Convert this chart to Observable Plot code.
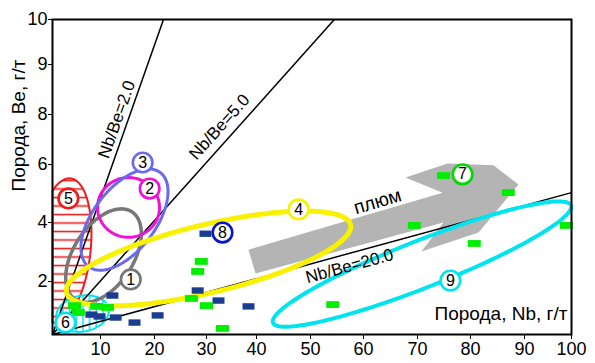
<!DOCTYPE html>
<html>
<head>
<meta charset="utf-8">
<script src="https://cdn.jsdelivr.net/npm/d3@7"></script>
<script src="https://cdn.jsdelivr.net/npm/@observablehq/plot@0.6"></script>
<style>
html,body{margin:0;padding:0;background:#fff;}
</style>
</head>
<body>
<div id="chart"></div>
<script>
// ---------- axes ----------
const xTickValues = [10, 20, 30, 40, 50, 60, 70, 80, 90, 100];
const yTickValues = [2, 4, 6, 8, 9, 10];
// the printed axes are not evenly spaced: tick value -> where it is printed
const xBreaks = [0, 10, 20, 30, 40, 50, 60, 70, 80, 90, 100];
const xPixels = [52, 100, 154, 206, 256, 310, 363, 417, 470, 524, 571];
const yBreaks = [0, 2, 4, 6, 8, 9, 10];
const yPixels = [334, 281, 222, 164, 114, 64, 19];

// ---------- samples ----------
const blueNb = [12.2, 8.1, 9.8, 12.8, 16.3, 20.6, 28.3, 29.8, 32.4, 38.4];
const blueBe = [1.47, 0.75, 0.68, 0.64, 0.45, 0.72, 1.66, 3.62, 1.28, 1.06];
const greenNb = [4.6, 5.4, 9.2, 11.3, 29.0, 28.3, 27.1, 30.0, 33.2, 54.2, 74.9, 87.0, 69.4, 80.7, 98.9];
const greenBe = [1.09, 0.83, 1.06, 1.02, 2.68, 2.34, 1.36, 1.09, 0.23, 1.13, 5.62, 5.03, 3.90, 3.29, 3.90];

// ---------- fields (ellipses: centre, end of one half-axis, end of the other) ----------
const zoneIds      = ["5", "6", "1", "2", "3", "4", "9"];
const zoneCenterNb = [2.08, 6.25, 10.56, 15.19, 14.44, 30.4, 70.85];
const zoneCenterBe = [3.05, 0.79, 2.88, 4.52, 4.10, 2.78, 2.59];
const zoneAxisANb  = [3.75, 11.48, 15.8, 20.96, 21.13, 57.55, 99.9];
const zoneAxisABe  = [5.52, 0.98, 4.37, 4.52, 5.72, 3.93, 4.59];
const zoneAxisBNb  = [7.88, 6.96, 15.2, 15.19, 19.0, 31.98, 72.47];
const zoneAxisBBe  = [2.95, 0.125, 2.33, 5.55, 3.46, 1.62, 1.83];

// ---------- numbered labels ----------
const labelText = ["1", "2", "3", "4", "5", "6", "7", "8", "9"];
const labelNb = [15.6, 19.1, 17.8, 47.8, 3.3, 2.7, 78.5, 33.2, 76.2];
const labelBe = [2.07, 5.17, 6.08, 4.45, 4.83, 0.45, 5.66, 3.66, 2.03];

// ---------- Nb/Be ratio lines ----------
const ratioText   = ["Nb/Be=2.0", "Nb/Be=5.0", "Nb/Be=20.0"];
const ratioEndNb  = [21.73, 54.5, 100];
const ratioEndBe  = [10, 10, 5.03];
const ratioTextNb = [13.0, 32.6, 57.36];
const ratioTextBe = [7.8, 7.5, 2.52];

// ---------- plume arrow ----------
const plumeNb = [38.4, 74.72, 67.78, 75.66, 84.26, 88.89, 81.48, 70.75, 74.91, 39.8];
const plumeBe = [3.08, 5.03, 5.55, 6.04, 5.97, 5.31, 3.66, 3.02, 4.0, 2.27];
const plumeText = "плюм";
const plumeTextNb = 62.59, plumeTextBe = 4.72;

const xTitle = "Порода, Nb, г/т";
const yTitle = "Порода, Be, г/т";

// ---------- styles ----------
const zoneStyle = {
  "5": {stroke: "#ee1c1c", strokeWidth: 2, fill: "#fe0101", clampFrame: true},
  "6": {stroke: "#00e4f0", strokeWidth: 2, fill: "#01fefe", clampFrame: true},
  "1": {stroke: "#777777", strokeWidth: 3.5},
  "2": {stroke: "#f010d8", strokeWidth: 3},
  "3": {stroke: "#6a6aee", strokeWidth: 3},
  "4": {stroke: "#f8f200", strokeWidth: 5},
  "9": {stroke: "#00e4f0", strokeWidth: 4}
};
const labelColor = {"1": "#777777", "2": "#f010d8", "3": "#6a6aee", "4": "#f8f200", "5": "#ee1c1c",
  "6": "#00e4f0", "7": "#00d800", "8": "#0a14c8", "9": "#00e4f0"};

// same mapping as the Plot scales (for building shapes)
const xs = d3.scaleLinear(xBreaks, xPixels);
const ys = d3.scaleLinear(yBreaks, yPixels);

function outline(i, clampFrame) {
  const cx = xs(zoneCenterNb[i]), cy = ys(zoneCenterBe[i]);
  const ax = xs(zoneAxisANb[i]) - cx, ay = ys(zoneAxisABe[i]) - cy;
  const bx = xs(zoneAxisBNb[i]) - cx, by = ys(zoneAxisBBe[i]) - cy;
  const n = 160;
  return d3.range(n).map(k => {
    const t = k / n * 2 * Math.PI;
    let px = cx + ax * Math.cos(t) + bx * Math.sin(t);
    let py = cy + ay * Math.cos(t) + by * Math.sin(t);
    if (clampFrame) {
      px = Math.min(Math.max(px, xPixels[0]), xPixels[xPixels.length - 1]);
      py = Math.min(Math.max(py, yPixels[yPixels.length - 1]), yPixels[0]);
    }
    return {Nb: xs.invert(px), Be: ys.invert(py)};
  });
}

const bluePts = blueNb.map((Nb, i) => ({Nb, Be: blueBe[i]}));
const greenPts = greenNb.map((Nb, i) => ({Nb, Be: greenBe[i]}));
const labels = labelText.map((t, i) => ({t, Nb: labelNb[i], Be: labelBe[i], color: labelColor[t]}));
const plume = plumeNb.map((Nb, i) => ({Nb, Be: plumeBe[i]}));
const ratios = ratioText.map((t, i) => ({t, Nb0: 0, Be0: 0, Nb1: ratioEndNb[i], Be1: ratioEndBe[i], tNb: ratioTextNb[i], tBe: ratioTextBe[i]}));

const angle = (x0, y0, x1, y1) => Math.atan2(ys(y1) - ys(y0), xs(x1) - xs(x0)) * 180 / Math.PI;

const blueBar = {draw(ctx) { ctx.rect(-6, -3.2, 12, 6.4); }};
const greenBar = {draw(ctx) { ctx.rect(-6.5, -3.4, 13, 6.8); }};

const hatched = zoneIds.map((id, i) => ({id, i})).filter(d => zoneStyle[d.id].fill);
const open = zoneIds.map((id, i) => ({id, i})).filter(d => !zoneStyle[d.id].fill);

const marks = [];
// hatched fields
for (const {id, i} of hatched) {
  const s = zoneStyle[id];
  marks.push(Plot.line(outline(i, s.clampFrame), {x: "Nb", y: "Be", curve: "linear-closed",
    stroke: s.stroke, strokeWidth: s.strokeWidth, fill: s.fill}));
}
// plume arrow
marks.push(Plot.line(plume, {x: "Nb", y: "Be", curve: "linear-closed", fill: "#b4b4b4", stroke: "none"}));
// ratio lines
marks.push(Plot.link(ratios, {x1: "Nb0", y1: "Be0", x2: "Nb1", y2: "Be1", stroke: "black", strokeWidth: 1.5}));
// open fields
for (const {id, i} of open) {
  const s = zoneStyle[id];
  marks.push(Plot.line(outline(i, false), {x: "Nb", y: "Be", curve: "linear-closed",
    stroke: s.stroke, strokeWidth: s.strokeWidth}));
}
// samples
marks.push(Plot.dot(bluePts, {x: "Nb", y: "Be", symbol: blueBar, fill: "#1b3d8f", stroke: "none"}));
marks.push(Plot.dot(greenPts, {x: "Nb", y: "Be", symbol: greenBar, fill: "#00ee00", stroke: "none"}));
// ratio labels
for (const r of ratios) {
  marks.push(Plot.text([r], {x: "tNb", y: "tBe", text: "t", fontSize: 17, fill: "black",
    rotate: angle(r.Nb0, r.Be0, r.Nb1, r.Be1)}));
}
// plume label
marks.push(Plot.text([{t: plumeText, Nb: plumeTextNb, Be: plumeTextBe}], {x: "Nb", y: "Be", text: "t",
  fontSize: 19, fill: "black", rotate: angle(plumeNb[0], plumeBe[0], plumeNb[1], plumeBe[1])}));
// numbered labels
marks.push(Plot.dot(labels, {x: "Nb", y: "Be", r: 9.8, fill: "white", stroke: "color", strokeWidth: 2.6}));
marks.push(Plot.text(labels, {x: "Nb", y: "Be", text: "t", fontSize: 16, fill: "black"}));
// axis titles
marks.push(Plot.text([{t: xTitle}], {text: "t", frameAnchor: "bottom-right", textAnchor: "end",
  dx: -4, dy: -15, fontSize: 19, fill: "black"}));
marks.push(Plot.text([{t: yTitle, Be: 5.07}], {y: "Be", text: "t", frameAnchor: "left", dx: -33.5,
  rotate: -90, fontSize: 19, fill: "black"}));
marks.push(Plot.frame({stroke: "black", strokeWidth: 2}));

const svg = Plot.plot({
  width: 595,
  height: 363,
  marginLeft: 52,
  marginRight: 24,
  marginTop: 19,
  marginBottom: 29,
  style: {fontFamily: "'Liberation Sans', Arial, sans-serif", fontSize: "18px", color: "black", background: "white"},
  x: {type: "linear", domain: xBreaks, range: xPixels, ticks: xTickValues, tickSize: 5, tickPadding: 3, label: null},
  y: {type: "linear", domain: yBreaks, range: yPixels, ticks: yTickValues, tickSize: 4, tickPadding: 1, label: null},
  color: {type: "identity"},
  marks
});

// hatching patterns for fields 5 and 6
const defs = d3.select(svg).insert("defs", ":first-child");
const pr = defs.append("pattern").attr("id", "hatchRed").attr("patternUnits", "userSpaceOnUse")
  .attr("width", 10).attr("height", 8.5);
pr.append("line").attr("x1", 0).attr("x2", 10).attr("y1", 1.5).attr("y2", 1.5)
  .attr("stroke", "#ee1c1c").attr("stroke-width", 1.6);
const pc = defs.append("pattern").attr("id", "hatchCyan").attr("patternUnits", "userSpaceOnUse")
  .attr("width", 6.7).attr("height", 10);
pc.append("line").attr("x1", 2).attr("x2", 2).attr("y1", 0).attr("y2", 10)
  .attr("stroke", "#00e4f0").attr("stroke-width", 1.5);
d3.select(svg).selectAll('[fill="#fe0101"]').attr("fill", "url(#hatchRed)");
d3.select(svg).selectAll('[fill="#01fefe"]').attr("fill", "url(#hatchCyan)");

document.getElementById("chart").appendChild(svg);
</script>
</body>
</html>
